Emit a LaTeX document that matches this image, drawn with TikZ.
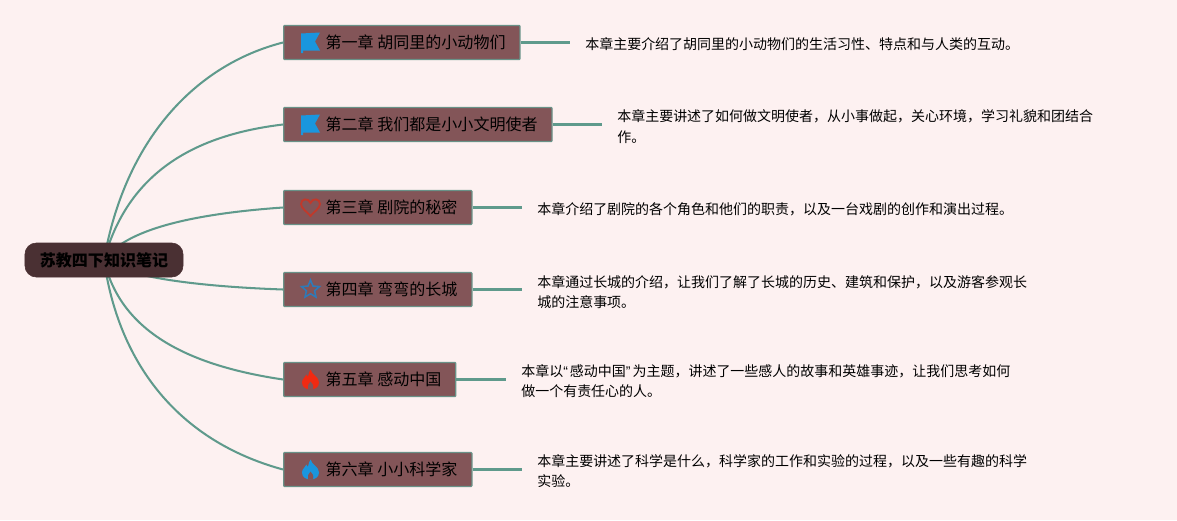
\documentclass[tikz,border=0pt]{standalone}
\usepackage{fontspec}
\setmainfont{Noto Sans CJK SC}
\newfontfamily\quotefont{Liberation Sans}
\usetikzlibrary{shapes.geometric, backgrounds}

\definecolor{pagebg}{HTML}{FDF1F1}
\definecolor{rootfill}{HTML}{4A3033}
\definecolor{chapfill}{HTML}{835558}
\definecolor{linkcol}{HTML}{5F9A8C}
\definecolor{flagblue}{HTML}{1A96DE}
\definecolor{starblue}{HTML}{2E7AB8}
\definecolor{heartred}{HTML}{C0392B}
\definecolor{flamered}{HTML}{F02A12}

\tikzset{
    root/.style={draw=rootfill, fill=rootfill, rounded corners=0.28cm, minimum width=3.95cm, minimum height=0.85cm, inner sep=0, font=\fontsize{11.4}{14}\selectfont\bfseries},
    chap/.style={draw=linkcol!70!gray, fill=chapfill, line width=0.9pt, rounded corners=0.02cm, anchor=west, minimum height=0.85cm, inner xsep=0.36cm, inner ysep=0, font=\fontsize{11.4}{14}\selectfont},
    desc/.style={anchor=west, inner sep=0, align=left, font=\fontsize{9.95}{14.5}\selectfont},
    branch/.style={draw=linkcol, line width=1.45pt},
    stub/.style={draw=linkcol, line width=1.9pt},
    flagicon/.pic={
        \fill[flagblue] (-9.5,-9) -- (9.5,-10) -- (4.5,-1) -- (9.5,8) -- (-7.5,8) -- (-7.5,10.5) -- (-9.5,10.5) -- cycle;
    },
    hearticon/.pic={
        \draw[heartred, line width=1.3pt] (0,8.5) .. controls (-3,4.5) and (-9.5,1) .. (-9.5,-3.5) .. controls (-9.5,-9) and (-2,-10) .. (0,-4.5) .. controls (2,-10) and (9.5,-9) .. (9.5,-3.5) .. controls (9.5,1) and (3,4.5) .. (0,8.5) -- cycle;
    },
    staricon/.pic={
        \node[star, star points=5, star point ratio=2.2, draw=starblue, line width=1.1pt, minimum size=0.47cm, inner sep=0] at (0,0) {};
    },
    flameicon/.pic={
        \fill[#1] (0,-10) .. controls (1,-5) and (8.5,-3) .. (8.5,3) .. controls (8.5,8) and (4,10) .. (0,10) .. controls (-4,10) and (-8.5,8) .. (-8.5,3) .. controls (-8.5,-1) and (-5,-2) .. (-4,-5) .. controls (-3.5,-3) and (-3,-3) .. (-2.5,-3) .. controls (-2,-6) and (-1,-8) .. (0,-10) -- cycle;
        \fill[chapfill] (0,2) .. controls (2,4) and (3.5,6) .. (2.5,10) -- (-2.5,10) .. controls (-3.5,7) and (-2,4) .. (0,2) -- cycle;
    },
}

\begin{document}
\begin{tikzpicture}[x=0.025cm, y=-0.025cm]
\useasboundingbox (0,0) rectangle (1177,520);

% Centre
\node[root] (kb) at (104,260) {苏教四下知识笔记};

% Chapters
\node[chap] (ch1) at (283,42.5) {\hspace*{0.69cm}第一章 胡同里的小动物们};
\node[chap] (ch2) at (283,124.5) {\hspace*{0.69cm}第二章 我们都是小小文明使者};
\node[chap] (ch3) at (283,207.5) {\hspace*{0.69cm}第三章 剧院的秘密};
\node[chap] (ch4) at (283,289.5) {\hspace*{0.69cm}第四章 弯弯的长城};
\node[chap] (ch5) at (283,379.5) {\hspace*{0.69cm}第五章 感动中国};
\node[chap] (ch6) at (283,469.5) {\hspace*{0.69cm}第六章 小小科学家};

% Icons
\draw (ch1.west) ++(27.5,0) pic {flagicon};
\draw (ch2.west) ++(27.5,0) pic {flagicon};
\draw (ch3.west) ++(27.5,0) pic {hearticon};
\draw (ch4.west) ++(27.5,0) pic {staricon};
\draw (ch5.west) ++(27.5,0) pic {flameicon=flamered};
\draw (ch6.west) ++(27.5,0) pic {flameicon=flagblue};

% Descriptions
\node[desc] (d1) at (585,44) {本章主要介绍了胡同里的小动物们的生活习性、特点和与人类的互动。};
\node[desc] (d2) at (617,126.5) {本章主要讲述了如何做文明使者，从小事做起，关心环境，学习礼貌和团结合\\作。};
\node[desc] (d3) at (537,209) {本章介绍了剧院的各个角色和他们的职责，以及一台戏剧的创作和演出过程。};
\node[desc] (d4) at (537,292) {本章通过长城的介绍，让我们了解了长城的历史、建筑和保护，以及游客参观长\\城的注意事项。};
\node[desc] (d5) at (521,381) {本章以{\quotefont “}\hspace{0.05cm}感动中国{\quotefont ”}\hspace{0.05cm}为主题，讲述了一些感人的故事和英雄事迹，让我们思考如何\\做一个有责任心的人。};
\node[desc] (d6) at (537,471) {本章主要讲述了科学是什么，科学家的工作和实验的过程，以及一些有趣的科学\\实验。};

% Branches and page
\begin{scope}[on background layer]
\fill[pagebg] (0,0) rectangle (1177,520);
\draw[branch] (kb.center) .. controls (125,140) and (195,65) .. (ch1.west);
\draw[branch] (kb.center) .. controls (128,172) and (195,135) .. (ch2.west);
\draw[branch] (kb.center) .. controls (125,230) and (190,214) .. (ch3.west);
\draw[branch] (kb.center) .. controls (122,275) and (185,286) .. (ch4.west);
\draw[branch] (kb.center) .. controls (120,330) and (185,365) .. (ch5.west);
\draw[branch] (kb.center) .. controls (118,360) and (175,440) .. (ch6.west);
% Stubs
\coordinate (e1) at (570,42.5);
\coordinate (e2) at (602,124.5);
\coordinate (e3) at (522,207.5);
\coordinate (e4) at (522,289.5);
\coordinate (e5) at (506,379.5);
\coordinate (e6) at (522,469.5);
\draw[stub] (ch1) -- (e1);
\draw[stub] (ch2) -- (e2);
\draw[stub] (ch3) -- (e3);
\draw[stub] (ch4) -- (e4);
\draw[stub] (ch5) -- (e5);
\draw[stub] (ch6) -- (e6);
\end{scope}
\end{tikzpicture}
\end{document}
